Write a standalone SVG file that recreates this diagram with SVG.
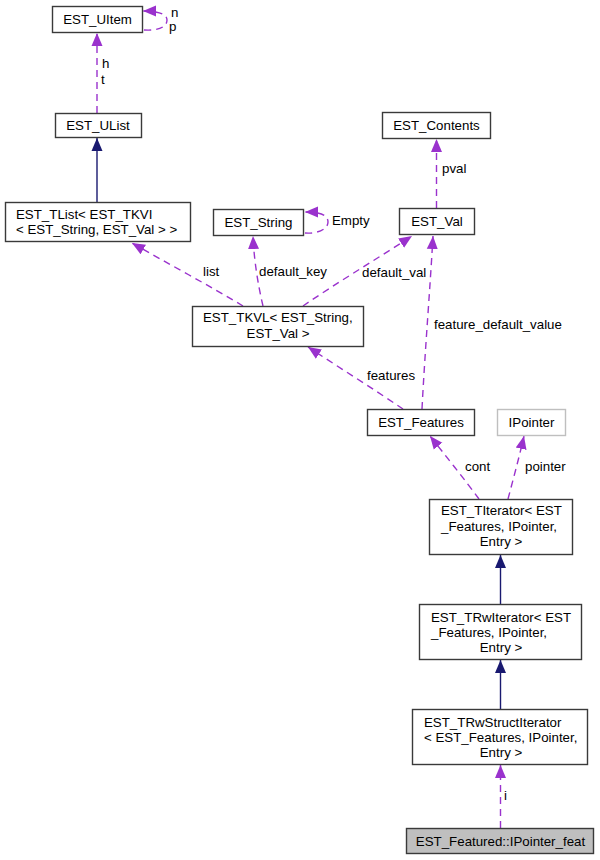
<svg xmlns="http://www.w3.org/2000/svg" width="600" height="860" viewBox="0 0 600 860">
<defs>
<style>
.box{fill:#ffffff;stroke:#3a3a3a;stroke-width:1.4}
.gray{fill:#ffffff;stroke:#bfbfbf;stroke-width:1.4}
.cur{fill:#bfbfbf;stroke:#3a3a3a;stroke-width:1.4}
text{font-family:"Liberation Sans",Arial,sans-serif;font-size:13.3px;fill:#000000}
.c{text-anchor:middle}
.use{fill:none;stroke:#9a32cd;stroke-width:1.4;stroke-dasharray:7,5}
.inh{fill:none;stroke:#191970;stroke-width:1.4}
</style>
<marker id="ap" markerUnits="userSpaceOnUse" markerWidth="14" markerHeight="12" viewBox="0 0 14 12" refX="13" refY="6" orient="auto">
<path d="M0,0.5 L13,6 L0,11.5 Z" fill="#9a32cd"/>
</marker>
<marker id="ab" markerUnits="userSpaceOnUse" markerWidth="14" markerHeight="12" viewBox="0 0 14 12" refX="13" refY="6" orient="auto">
<path d="M0,0.5 L13,6 L0,11.5 Z" fill="#191970"/>
</marker>
</defs>
<rect width="600" height="860" fill="#ffffff"/>
<g id="edges">
<path class="use" d="M97,113 L97,33" marker-end="url(#ap)"/>
<path class="use" d="M144,30 C158,31 167,27 167,20 C167,14 158,11 143,11" marker-end="url(#ap)"/>
<path class="inh" d="M97,202 L97,138" marker-end="url(#ab)"/>
<path class="use" d="M305,233 C318,234 328,229 328,222 C328,215 320,212 305,212" marker-end="url(#ap)"/>
<path class="use" d="M436.5,208 L436.5,139" marker-end="url(#ap)"/>
<path class="use" d="M243,306 C210,286 165,262 132,243" marker-end="url(#ap)"/>
<path class="use" d="M263,306 C258,285 254,260 253,236" marker-end="url(#ap)"/>
<path class="use" d="M303,306 C335,284 375,260 412,236" marker-end="url(#ap)"/>
<path class="use" d="M403,409 C375,390 340,368 308,347" marker-end="url(#ap)"/>
<path class="use" d="M422,409 C425,350 430,290 433,236" marker-end="url(#ap)"/>
<path class="use" d="M479,499 C465,480 445,455 430,436" marker-end="url(#ap)"/>
<path class="use" d="M508,499 C513,480 519,458 524,436" marker-end="url(#ap)"/>
<path class="inh" d="M500.5,604 L500.5,555" marker-end="url(#ab)"/>
<path class="inh" d="M500.5,709 L500.5,660" marker-end="url(#ab)"/>
<path class="use" d="M500.5,828 L500.5,765" marker-end="url(#ap)"/>
<g id="edge-labels">
<text x="171" y="17">n</text>
<text x="169" y="31">p</text>
<text x="102" y="68">h</text>
<text x="101" y="84">t</text>
<text x="332" y="225">Empty</text>
<text x="442" y="173">pval</text>
<text x="203" y="276">list</text>
<text x="259" y="276">default_key</text>
<text x="362" y="277">default_val</text>
<text x="434" y="329">feature_default_value</text>
<text x="367" y="380">features</text>
<text x="465" y="471">cont</text>
<text x="525" y="471">pointer</text>
<text x="504" y="800">i</text>
</g>
</g>
<g id="EST_UItem"><rect class="box" x="52.5" y="6.5" width="90" height="26"/><text class="c" x="97.5" y="24">EST_UItem</text></g>
<g id="EST_UList"><rect class="box" x="55.5" y="113.5" width="86" height="24"/><text class="c" x="98" y="130">EST_UList</text></g>
<g id="EST_TList"><rect class="box" x="5.5" y="202.5" width="185" height="39"/><text x="16" y="218.5">EST_TList&lt; EST_TKVI</text><text x="16" y="233.5">&lt; EST_String, EST_Val &gt; &gt;</text></g>
<g id="EST_String"><rect class="box" x="213.5" y="209.5" width="90" height="26"/><text class="c" x="258.5" y="227">EST_String</text></g>
<g id="EST_Val"><rect class="box" x="399.5" y="208.5" width="75" height="26"/><text class="c" x="437" y="226">EST_Val</text></g>
<g id="EST_Contents"><rect class="box" x="382.5" y="112.5" width="108" height="26"/><text class="c" x="436.5" y="130">EST_Contents</text></g>
<g id="EST_TKVL"><rect class="box" x="192.5" y="306.5" width="171" height="40"/><text x="203" y="321.5">EST_TKVL&lt; EST_String,</text><text class="c" x="278" y="337.5">EST_Val &gt;</text></g>
<g id="EST_Features"><rect class="box" x="367.5" y="409.5" width="107" height="26"/><text class="c" x="421" y="427">EST_Features</text></g>
<g id="IPointer"><rect class="gray" x="497.5" y="409.5" width="68" height="26"/><text class="c" x="531.5" y="427">IPointer</text></g>
<g id="EST_TIterator"><rect class="box" x="429.5" y="499.5" width="143" height="55"/><text x="441" y="514.5">EST_TIterator&lt; EST</text><text x="441" y="530.5">_Features, IPointer,</text><text class="c" x="501" y="545.5">Entry &gt;</text></g>
<g id="EST_TRwIterator"><rect class="box" x="419.5" y="604.5" width="162" height="55"/><text x="431" y="621.5">EST_TRwIterator&lt; EST</text><text x="431" y="636.5">_Features, IPointer,</text><text class="c" x="501" y="651.5">Entry &gt;</text></g>
<g id="EST_TRwStructIterator"><rect class="box" x="412.5" y="709.5" width="175" height="55"/><text x="424" y="726.5">EST_TRwStructIterator</text><text x="424" y="741.5">&lt; EST_Features, IPointer,</text><text class="c" x="501" y="756.5">Entry &gt;</text></g>
<g id="EST_Featured_IPointer_feat"><rect class="cur" x="406.5" y="828.5" width="187" height="25"/><text class="c" x="500.5" y="845.5">EST_Featured::IPointer_feat</text></g>
</svg>
